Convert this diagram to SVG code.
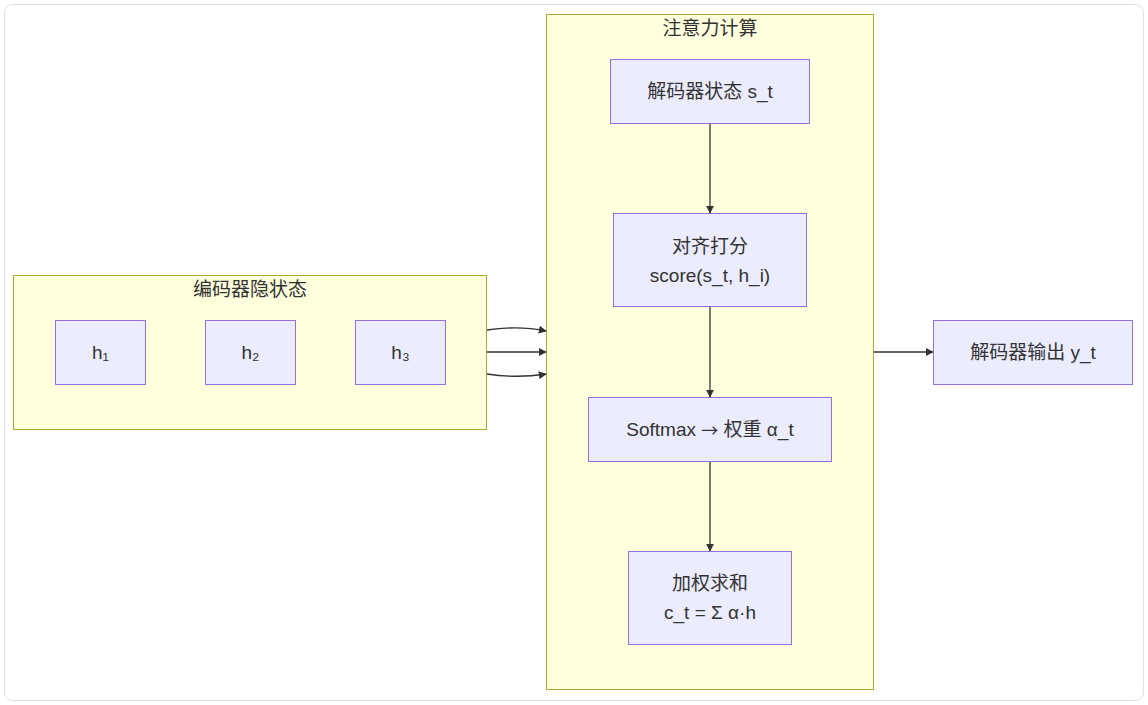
<svg xmlns="http://www.w3.org/2000/svg" width="1148" height="705" viewBox="0 0 1148 705">
<style>
text{font-family:"Liberation Sans","Noto Sans CJK SC",sans-serif;font-size:19px;fill:#333;text-anchor:middle;dominant-baseline:central}
.ar{font-family:"Noto Sans CJK SC",sans-serif;font-size:17px}
.cl{fill:#ffffde;stroke:#aaaa33;stroke-width:1}
.nd{fill:#ececff;stroke:#9370db;stroke-width:1}
.ed{fill:none;stroke:#333;stroke-width:1.3}
</style>
<defs>
<marker id="ah" viewBox="0 0 10 10" refX="9" refY="5" markerWidth="8" markerHeight="8" markerUnits="userSpaceOnUse" orient="auto">
<path d="M0,0L10,5L0,10z" fill="#333"/>
</marker>
</defs>
<rect x="4.5" y="4.5" width="1139" height="696" rx="8" fill="#fff" stroke="#e0e0e0"/>
<g id="cluster-encoder">
<rect class="cl" x="13.5" y="275.5" width="473" height="154"/>
<text x="250" y="289">编码器隐状态</text>
</g>
<g id="cluster-attention">
<rect class="cl" x="546.5" y="14.5" width="327" height="675"/>
<text x="710" y="28">注意力计算</text>
</g>
<g id="connectors">
<path class="ed" d="M487,330 C507,327 527,327 546,331" marker-end="url(#ah)"/>
<path class="ed" d="M487,352 L546,352" marker-end="url(#ah)"/>
<path class="ed" d="M487,374 C507,377 527,377 546,374" marker-end="url(#ah)"/>
<path class="ed" d="M710,124 L710,213" marker-end="url(#ah)"/>
<path class="ed" d="M710,307 L710,397" marker-end="url(#ah)"/>
<path class="ed" d="M710,462 L710,551" marker-end="url(#ah)"/>
<path class="ed" d="M874,352 L933,352" marker-end="url(#ah)"/>
</g>
<g id="h1"><rect class="nd" x="55.5" y="320.5" width="90" height="64"/><text x="100.5" y="352">h₁</text></g>
<g id="h2"><rect class="nd" x="205.5" y="320.5" width="90" height="64"/><text x="250.5" y="352">h₂</text></g>
<g id="h3"><rect class="nd" x="355.5" y="320.5" width="90" height="64"/><text x="400.5" y="352">h₃</text></g>
<g id="dec-state"><rect class="nd" x="610.5" y="59.5" width="199" height="64"/><text x="710" y="91">解码器状态 s_t</text></g>
<g id="score"><rect class="nd" x="613.5" y="213.5" width="193" height="93"/><text x="710" y="246">对齐打分</text><text x="710" y="275">score(s_t, h_i)</text></g>
<g id="softmax"><rect class="nd" x="588.5" y="397.5" width="243" height="64"/><text x="710" y="429">Softmax <tspan class="ar">→</tspan> 权重 α_t</text></g>
<g id="wsum"><rect class="nd" x="628.5" y="551.5" width="163" height="93"/><text x="710" y="583">加权求和</text><text x="710" y="612">c_t = Σ α·h</text></g>
<g id="dec-out"><rect class="nd" x="933.5" y="320.5" width="199" height="64"/><text x="1033" y="352">解码器输出 y_t</text></g>
</svg>
